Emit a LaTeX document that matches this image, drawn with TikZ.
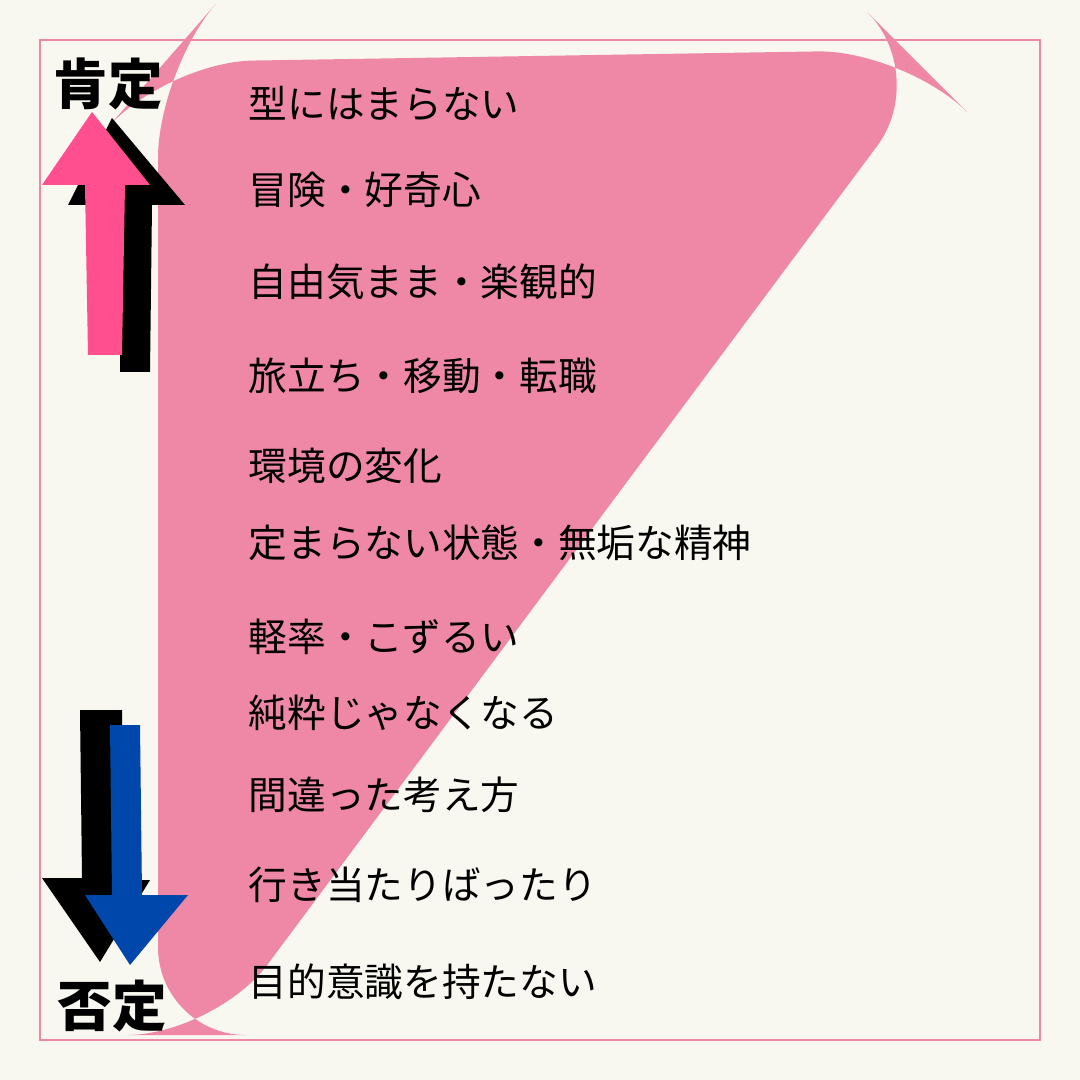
\documentclass[tikz,border=0pt]{standalone}
\usepackage{fontspec}
\newfontfamily\jp{Noto Sans CJK JP}
\definecolor{bgpaper}{HTML}{F8F8F0}
\definecolor{tripink}{HTML}{EF88A6}
\definecolor{uppink}{HTML}{FF4F8E}
\definecolor{downblue}{HTML}{0047AB}
\tikzset{
  item/.style={anchor=west,inner sep=0pt,font=\jp\fontsize{11}{11}\selectfont},
  pole/.style={inner sep=0pt,font=\jp\bfseries\fontsize{15.5}{15.5}\selectfont}
}
\begin{document}
\begin{tikzpicture}[x=0.01cm,y=-0.01cm]
\useasboundingbox (0,0) rectangle (1080,1080);
\fill[bgpaper] (0,0) rectangle (1080,1080);
\draw[tripink,line width=0.6pt] (40,40) rectangle (1040,1040);
% triangle
\fill[tripink,rounded corners=25] (165,62) -- (905,50) -- (930,75) -- (215,1035) -- (158,1035) -- (158,70) -- cycle;
% up arrow
\fill[black] (112,118) -- (185,205) -- (152,205) -- (150,372) -- (120,372) -- (120,205) -- (68,205) -- cycle;
\fill[uppink] (92,112) -- (150,185) -- (125,185) -- (122,355) -- (88,355) -- (85,185) -- (42,185) -- cycle;
% down arrow
\fill[black] (80,710) -- (122,710) -- (122,880) -- (150,880) -- (100,962) -- (42,878) -- (82,878) -- cycle;
\fill[downblue] (110,725) -- (140,725) -- (142,895) -- (188,895) -- (130,965) -- (85,895) -- (112,895) -- cycle;
\node[pole] (pos) at (108,84) {肯定};
\node[pole] (neg) at (112,1006) {否定};
\node[item] (t1) at (248,104) {型にはまらない};
\node[item] (t2) at (248,190) {冒険・好奇心};
\node[item] (t3) at (248,282) {自由気まま・楽観的};
\node[item] (t4) at (248,376) {旅立ち・移動・転職};
\node[item] (t5) at (248,466) {環境の変化};
\node[item] (t6) at (248,543) {定まらない状態・無垢な精神};
\node[item] (t7) at (248,637) {軽率・こずるい};
\node[item] (t8) at (248,713) {純粋じゃなくなる};
\node[item] (t9) at (248,795) {間違った考え方};
\node[item] (t10) at (248,885) {行き当たりばったり};
\node[item] (t11) at (248,982) {目的意識を持たない};
\end{tikzpicture}
\end{document}
